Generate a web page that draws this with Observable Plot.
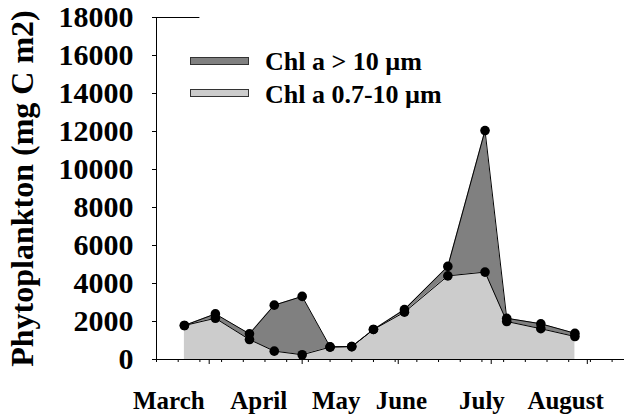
<!DOCTYPE html>
<html>
<head>
<meta charset="utf-8">
<script src="https://cdn.jsdelivr.net/npm/d3@7"></script>
<script src="https://cdn.jsdelivr.net/npm/@observablehq/plot@0.6"></script>
<style>
  body { margin: 0; background: #fff; }
  #wrap { position: relative; width: 625px; height: 415px; font-family: "Liberation Serif", "Times New Roman", serif; font-weight: bold; color: #000; }
  #wrap svg { position: absolute; left: 0; top: 0; }
  .sw { position: absolute; left: 190px; width: 59px; height: 8px; box-sizing: border-box; border: 1px solid #333; }
  .lt { position: absolute; left: 265px; font-size: 26px; line-height: 30px; white-space: nowrap; }
</style>
</head>
<body>
<div id="wrap">
  <div class="sw" style="top:57px;background:#808080"></div>
  <div class="lt" style="top:47px">Chl a &gt; 10 µm</div>
  <div class="sw" style="top:89px;background:#cccccc"></div>
  <div class="lt" style="top:80px">Chl a 0.7-10 µm</div>
</div>
<script>
// ---- data ----
const sampleDates = ["2001-03-24","2001-04-03","2001-04-14","2001-04-22","2001-05-01","2001-05-10","2001-05-17","2001-05-24","2001-06-03","2001-06-17","2001-06-29","2001-07-06","2001-07-17","2001-07-28"];
const chlSmall = [1790, 2170, 1050, 440, 250, 650, 680, 1580, 2490, 4400, 4600, 2000, 1620, 1210];   // Chl a 0.7-10 µm
const chlLarge = [0, 230, 300, 2420, 3070, 20, 0, 0, 140, 500, 7450, 170, 260, 170];               // Chl a > 10 µm (on top)
const yTicks = [0, 2000, 4000, 6000, 8000, 10000, 12000, 14000, 16000, 18000];
const monthNames = ["March", "April", "May", "June", "July", "August"];
const monthLabelDates = ["2001-03-19","2001-04-17","2001-05-12","2001-06-02","2001-06-28","2001-07-25"];
const monthStarts = ["2001-04-01","2001-05-01","2001-06-01","2001-07-01","2001-08-01"];
const xStart = "2001-03-15", xEnd = "2001-08-13", topSegEnd = "2001-03-29";
const yTitle = "Phytoplankton (mg C m2)";

// ---- build ----
const data = sampleDates.map((d, i) => ({date: new Date(d), small: chlSmall[i], total: chlSmall[i] + chlLarge[i]}));
const start = new Date(xStart), end = new Date(xEnd);
const minorTicks = d3.range(0, 22).map(k => d3.utcDay.offset(start, 7 * k));
const majorTicks = monthStarts.map(d => new Date(d));
const labelDates = monthLabelDates.map(d => new Date(d));
const labelMap = new Map(labelDates.map((d, i) => [+d, monthNames[i]]));

const chart = Plot.plot({
  width: 625,
  height: 415,
  marginLeft: 156,
  marginRight: 1,
  marginTop: 17,
  marginBottom: 56,
  style: {fontFamily: "'Liberation Serif', 'Times New Roman', serif", fontWeight: "bold", color: "#000", background: "transparent"},
  x: {type: "utc", domain: [start, end]},
  y: {domain: [0, 18000]},
  marks: [
    Plot.areaY(data, {x: "date", y1: 0, y2: "small", fill: "#cccccc"}),
    Plot.areaY(data, {x: "date", y1: "small", y2: "total", fill: "#808080"}),
    Plot.line(data, {x: "date", y: "total", stroke: "#000", strokeWidth: 1}),
    Plot.line(data, {x: "date", y: "small", stroke: "#000", strokeWidth: 1}),
    Plot.dot(data, {x: "date", y: "total", r: 4.8, fill: "#000"}),
    Plot.dot(data, {x: "date", y: "small", r: 4.8, fill: "#000"}),
    Plot.ruleY([0], {stroke: "#000", strokeWidth: 1}),
    Plot.ruleY([18000], {x1: start, x2: new Date(topSegEnd), stroke: "#000", strokeWidth: 1}),
    Plot.ruleX([start], {stroke: "#000", strokeWidth: 1}),
    Plot.axisY({ticks: yTicks, tickSize: 4, tickPadding: 19, fontSize: 30, fontWeight: "bold", label: null, tickFormat: d => String(d)}),
    Plot.axisX({ticks: minorTicks, tickSize: 3, tickFormat: () => "", label: null}),
    Plot.axisX({ticks: majorTicks, tickSize: 5, tickFormat: () => "", label: null}),
    Plot.axisX({ticks: labelDates, tickSize: 0, tickPadding: 32, fontSize: 25, fontWeight: "bold", tickFormat: d => labelMap.get(+d), label: null}),
    Plot.text([yTitle], {frameAnchor: "left", textAnchor: "middle", lineAnchor: "middle", rotate: -90, dx: -134, fontSize: 32, fontWeight: "bold", fill: "#000"})
  ]
});
document.getElementById("wrap").prepend(chart);
</script>
</body>
</html>
